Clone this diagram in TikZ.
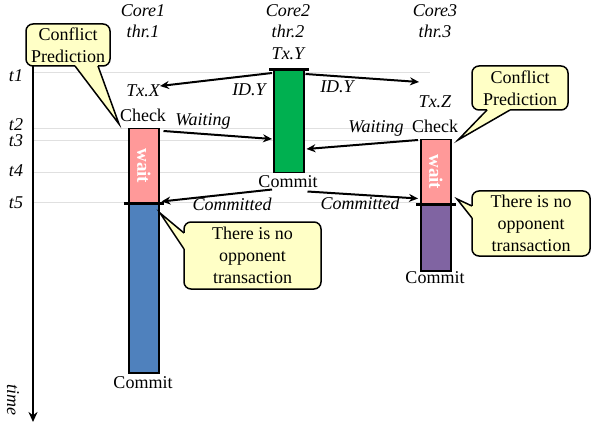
\documentclass[tikz,border=0pt]{standalone}
\usepackage{fontspec}
\setmainfont{Liberation Serif}
\usetikzlibrary{arrows.meta,calc}
\definecolor{waitpink}{HTML}{FF9999}
\definecolor{txblue}{HTML}{4F81BD}
\definecolor{txgreen}{HTML}{00B050}
\definecolor{txpurple}{HTML}{8064A2}
\definecolor{notefill}{HTML}{FFFFC6}
\tikzset{
  lbl/.style={font=\fontsize{18}{22}\selectfont, inner sep=0pt, anchor=base},
  ilbl/.style={inner sep=0pt, anchor=base, font=\fontsize{18}{22}\selectfont\itshape},
  bar/.style={draw=black, line width=1.5pt, minimum width=30pt, inner sep=0pt, anchor=north west},
  arr/.style={line width=2pt, -{Stealth[length=9pt,width=8pt]}},
  note/.style={draw=black, line width=1.5pt, fill=notefill, rounded corners=7pt, inner sep=0pt, align=center, font=\fontsize{18}{22}\selectfont},
  ptrfill/.style={fill=notefill},
  ptrline/.style={draw=black, line width=1.5pt, line join=miter},
  gridline/.style={draw=black!12, line width=0.7pt},
  marker/.style={line width=3pt},
  waittxt/.style={rotate=-90, text=white, font=\fontsize{19}{22}\selectfont\bfseries, inner sep=0pt},
}
\begin{document}
\begin{tikzpicture}[x=1pt,y=-1pt]
\useasboundingbox (0,0) rectangle (592,425);
% time grid lines
\foreach \yy in {72,128,140,172,202} \draw[gridline] (33,\yy) -- (430,\yy);
% time labels
\node[ilbl] (t1) at (16,82) {t1};
\node[ilbl] (t2) at (16,131) {t2};
\node[ilbl] (t3) at (16,147) {t3};
\node[ilbl] (t4) at (16,177) {t4};
\node[ilbl] (t5) at (16,208) {t5};
% time axis
\coordinate (axtop) at (33,65);
\coordinate (axbot) at (33,422);
\draw[line width=2.5pt, -{Stealth[length=10pt,width=9pt]}] (axtop) -- (axbot);
\node[rotate=-90, inner sep=0pt, font=\fontsize{18}{22}\selectfont\itshape] (timelbl) at (13,400) {time};
% core headings
\node[ilbl] (c1a) at (143,17) {Core1};
\node[ilbl] (c1b) at (143,38) {thr.1};
\node[ilbl] (c2a) at (288,17) {Core2};
\node[ilbl] (c2b) at (288,38) {thr.2};
\node[ilbl] (c3a) at (435,17) {Core3};
\node[ilbl] (c3b) at (435,38) {thr.3};
% Core1
\node[bar, fill=waitpink, minimum height=74pt] (p1) at (128,128) {};
\node[bar, fill=txblue, minimum height=170pt] (b1) at (128,202) {};
\node[waittxt] (w1) at (p1.center) {wait};
\draw[marker] ($(p1.south west)+(-4,0)$) -- ($(p1.south east)+(4,0)$);
\node[ilbl] (txx) at (143,97) {Tx.X};
\node[lbl] (chk1) at (143,122) {Check};
\node[lbl] (cm1) at (143,388) {Commit};
% Core2
\node[bar, fill=txgreen, minimum height=102pt] (g2) at (273,70) {};
\draw[marker] ($(g2.north west)+(-4,0)$) -- ($(g2.north east)+(4,0)$);
\node[ilbl] (txy) at (288,60) {Tx.Y};
\node[lbl] (cm2) at (288,187) {Commit};
% Core3
\node[bar, fill=waitpink, minimum height=64pt] (p3) at (420,139) {};
\node[bar, fill=txpurple, minimum height=67pt] (v3) at (420,203) {};
\node[waittxt] (w3) at (p3.center) {wait};
\draw[marker] ($(p3.south west)+(-4,0)$) -- ($(p3.south east)+(4,0)$);
\node[ilbl] (txz) at (435,108) {Tx.Z};
\node[lbl] (chk3) at (435,133) {Check};
\node[lbl] (cm3) at (435,283) {Commit};
% arrows
\coordinate (idl) at (160,86);
\coordinate (idr) at (419,82);
\draw[arr] ($(g2.north west)+(-1,3)$) -- (idl);
\draw[arr] ($(g2.north east)+(1,4)$) -- (idr);
\node[ilbl] (idyl) at (249,96) {ID.Y};
\node[ilbl] (idyr) at (337,93) {ID.Y};
\draw[arr] ($(p1.north east)+(4,3)$) -- ($(g2.north west)+(-1,69)$);
\node[ilbl] (wl) at (203,126) {Waiting};
\draw[arr] ($(p3.north west)+(-2,1)$) -- ($(g2.north east)+(2,79)$);
\node[ilbl] (wr) at (376,133) {Waiting};
\draw[arr] ($(g2.south west)+(-1,16)$) -- ($(p1.south east)+(2,-2)$);
\node[ilbl] (cl) at (232,211) {Committed};
\draw[arr] ($(g2.south east)+(3,18)$) -- ($(p3.south west)+(-2,-6)$);
\node[ilbl] (cr) at (360,209) {Committed};
% callout 1 (Core1 conflict prediction)
\node[note, minimum width=84pt, minimum height=42pt] (n1) at (68,45) {Conflict\\Prediction};
\fill[ptrfill] (76,63) -- (75,66) -- (119,124) -- (98,66) -- (97,63) -- cycle;
\draw[ptrline] (75,66) -- (119,124) -- (98,66);
% callout 2 (Core3 conflict prediction)
\node[note, minimum width=96pt, minimum height=44pt] (n2) at (520,88) {Conflict\\Prediction};
\fill[ptrfill] (488,107) -- (487,110) -- (458,140) -- (510,110) -- (509,107) -- cycle;
\draw[ptrline] (487,110) -- (458,140) -- (510,110);
% callout 3 (Core1 no opponent)
\node[note, minimum width=137pt, minimum height=67pt] (n3) at (252.5,255.5) {There is no\\opponent\\transaction};
\fill[ptrfill] (187,234) -- (184,233) -- (160,213) -- (184,249) -- (187,248) -- cycle;
\draw[ptrline] (184,233) -- (160,213) -- (184,249);
% callout 4 (Core3 no opponent)
\node[note, minimum width=118pt, minimum height=65pt] (n4) at (531,223.5) {There is no\\opponent\\transaction};
\fill[ptrfill] (475,207) -- (472,206) -- (457,199) -- (472,218) -- (475,217) -- cycle;
\draw[ptrline] (472,206) -- (457,199) -- (472,218);
\end{tikzpicture}
\end{document}
